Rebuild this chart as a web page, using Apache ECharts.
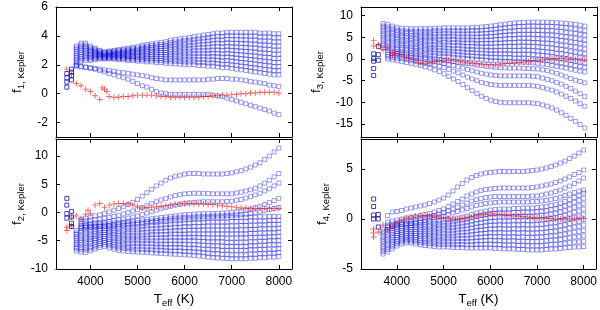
<!DOCTYPE html>
<html><head><meta charset="utf-8">
<script src="https://cdn.jsdelivr.net/npm/echarts@6/dist/echarts.min.js"></script>
<style>html,body{margin:0;padding:0;background:#fff}#c{width:600px;height:310px}</style>
</head><body><div id="c"></div>
<script>
// ---------- data ----------
const teffCool = [3500, 3600];
const teffBand = [3700,3800,3900,4000,4100,4200,4300,4400,4500,4600,4700,4800,4900,5000,5100,5200,5300,5400,5500,5600,5700,5800,5900,6000,6100,6200,6300,6400,6500,6600,6700,6800,6900,7000,7100,7200,7300,7400,7500,7600,7700,7800,7900,8000];
const xTicks = [4000,5000,6000,7000,8000];
const f1Ticks = [-2,0,2,4,6];
const f3Ticks = [-15,-10,-5,0,5,10];
const f2Ticks = [-10,-5,0,5,10];
const f4Ticks = [-5,0,5];

// f1 (top left)
const f1Cool = [[0.45,0.8,1.1,1.4],[0.95,1.25,1.5,1.7]];
const f1Band = [
[2.0,2.13,2.26,2.39,2.52,2.65,2.78,2.91,3.04,3.17,3.3],
[2.2,2.33,2.46,2.59,2.72,2.85,2.98,3.11,3.24,3.37,3.5],
[2.3,2.42,2.54,2.66,2.78,2.9,3.02,3.14,3.26,3.38,3.5],
[2.3,2.4,2.5,2.6,2.7,2.8,2.9,3.0,3.1,3.2,3.3],
[2.35,2.43,2.51,2.59,2.67,2.75,2.83,2.91,2.99,3.07,3.15],
[2.4,2.46,2.52,2.58,2.64,2.7,2.76,2.82,2.88,2.94,3.0],
[2.4,2.45,2.5,2.55,2.6,2.65,2.7,2.75,2.8,2.85,2.9],
[2.4,2.46,2.51,2.57,2.62,2.68,2.73,2.79,2.84,2.9,2.95],
[2.4,2.46,2.52,2.58,2.64,2.7,2.76,2.82,2.88,2.94,3.0],
[2.35,2.42,2.49,2.56,2.63,2.7,2.77,2.84,2.91,2.98,3.05],
[2.35,2.43,2.5,2.58,2.65,2.73,2.8,2.88,2.95,3.03,3.1],
[2.3,2.39,2.47,2.56,2.64,2.73,2.81,2.9,2.98,3.07,3.15],
[2.3,2.39,2.48,2.57,2.66,2.75,2.84,2.93,3.02,3.11,3.2],
[2.25,2.35,2.45,2.55,2.65,2.75,2.85,2.95,3.05,3.15,3.25],
[2.25,2.36,2.47,2.58,2.69,2.8,2.91,3.02,3.13,3.24,3.35],
[2.2,2.32,2.44,2.56,2.68,2.8,2.92,3.04,3.16,3.28,3.4],
[2.2,2.33,2.45,2.58,2.7,2.83,2.95,3.08,3.2,3.33,3.45],
[2.15,2.29,2.42,2.56,2.69,2.83,2.96,3.1,3.23,3.37,3.5],
[2.15,2.29,2.43,2.57,2.71,2.85,2.99,3.13,3.27,3.41,3.55],
[2.1,2.25,2.4,2.55,2.7,2.85,3.0,3.15,3.3,3.45,3.6],
[2.1,2.26,2.42,2.58,2.74,2.9,3.06,3.22,3.38,3.54,3.7],
[2.05,2.22,2.39,2.56,2.73,2.9,3.07,3.24,3.41,3.58,3.75],
[2.05,2.23,2.4,2.58,2.75,2.93,3.1,3.28,3.45,3.63,3.8],
[2.0,2.19,2.37,2.56,2.74,2.93,3.11,3.3,3.48,3.67,3.85],
[2.0,2.19,2.38,2.57,2.76,2.95,3.14,3.33,3.52,3.71,3.9],
[2.0,2.2,2.39,2.59,2.78,2.98,3.17,3.37,3.56,3.76,3.95],
[1.95,2.16,2.36,2.57,2.77,2.98,3.18,3.39,3.59,3.8,4.0],
[1.95,2.16,2.37,2.58,2.79,3.0,3.21,3.42,3.63,3.84,4.05],
[1.9,2.12,2.34,2.56,2.78,3.0,3.22,3.44,3.66,3.88,4.1],
[1.9,2.13,2.35,2.58,2.8,3.03,3.25,3.48,3.7,3.93,4.15],
[1.85,2.09,2.32,2.56,2.79,3.03,3.26,3.5,3.73,3.97,4.2],
[1.8,2.04,2.28,2.52,2.76,3.0,3.24,3.48,3.72,3.96,4.2],
[1.8,2.05,2.29,2.54,2.78,3.03,3.27,3.52,3.76,4.01,4.25],
[1.75,2.0,2.25,2.5,2.75,3.0,3.25,3.5,3.75,4.0,4.25],
[1.7,1.96,2.21,2.47,2.72,2.98,3.23,3.49,3.74,4.0,4.25],
[1.65,1.91,2.17,2.43,2.69,2.95,3.21,3.47,3.73,3.99,4.25],
[1.6,1.87,2.13,2.4,2.66,2.93,3.19,3.46,3.72,3.99,4.25],
[1.55,1.82,2.09,2.36,2.63,2.9,3.17,3.44,3.71,3.98,4.25],
[1.5,1.78,2.05,2.33,2.6,2.88,3.15,3.43,3.7,3.98,4.25],
[1.45,1.73,2.0,2.28,2.55,2.83,3.1,3.38,3.65,3.93,4.2],
[1.4,1.68,1.96,2.24,2.52,2.8,3.08,3.36,3.64,3.92,4.2],
[1.35,1.64,1.92,2.21,2.49,2.78,3.06,3.35,3.63,3.92,4.2],
[1.3,1.59,1.87,2.16,2.44,2.73,3.01,3.3,3.58,3.87,4.15],
[1.3,1.59,1.87,2.16,2.44,2.73,3.01,3.3,3.58,3.87,4.15]
];
const f1LowA = [1.9,1.85,1.8,1.75,1.7,1.6,1.5,1.4,1.3,1.2,1.1,1.0,0.85,0.7,0.55,0.45,0.3,0.15,0.05,0.0,-0.05,-0.05,-0.05,-0.05,-0.05,-0.05,-0.05,-0.05,-0.05,-0.1,-0.15,-0.2,-0.3,-0.4,-0.5,-0.6,-0.7,-0.8,-0.9,-1.0,-1.1,-1.2,-1.35,-1.45];
const f1LowB = [1.95,1.9,1.85,1.8,1.75,1.7,1.65,1.6,1.55,1.5,1.45,1.4,1.35,1.3,1.25,1.2,1.1,1.05,1.0,0.95,0.95,0.95,0.95,0.95,0.95,0.95,0.95,0.95,1.0,1.0,1.05,1.05,1.05,1.0,1.0,0.95,0.9,0.85,0.8,0.75,0.7,0.6,0.55,0.5];
const f1RedT = [3500,3600,3700,3800,3900,4000,4100,4200,4250,4300,4350,4400,4500,4600,4700,4800,4900,5000,5100,5200,5300,5400,5500,5600,5700,5800,5900,6000,6100,6200,6300,6400,6500,6600,6700,6800,6900,7000,7100,7200,7300,7400,7500,7600,7700,7800,7900,8000];
const f1RedV = [1.7,1.3,0.7,0.55,0.3,0.15,-0.15,-0.4,0.4,0.3,0.15,-0.2,-0.25,-0.25,-0.2,-0.2,-0.15,-0.1,-0.1,-0.1,-0.1,-0.15,-0.2,-0.2,-0.25,-0.25,-0.25,-0.25,-0.25,-0.25,-0.25,-0.2,-0.2,-0.15,-0.15,-0.1,-0.1,-0.05,-0.05,0.0,0.0,0.05,0.05,0.1,0.1,0.1,0.1,0.05];

// f3 (top right)
const f3Cool = [[1.2,0.1,-0.5,-2.2,-3.8],[2.9,1.0,-0.3]];
const f3Band = [
[2.5,3.1,3.6,4.2,4.8,5.4,5.9,6.5,7.1,7.6,8.2],
[2.0,2.6,3.2,3.8,4.4,5.0,5.6,6.2,6.8,7.4,8.0],
[1.8,2.4,3.0,3.5,4.1,4.7,5.3,5.9,6.4,7.0,7.6],
[1.6,2.2,2.7,3.3,3.9,4.5,5.0,5.6,6.2,6.7,7.3],
[1.5,2.1,2.6,3.2,3.7,4.3,4.9,5.4,6.0,6.5,7.1],
[1.4,2.0,2.5,3.1,3.6,4.2,4.8,5.3,5.9,6.4,7.0],
[1.3,1.9,2.4,3.0,3.6,4.2,4.7,5.3,5.9,6.4,7.0],
[1.2,1.8,2.4,2.9,3.5,4.1,4.7,5.3,5.8,6.4,7.0],
[1.1,1.7,2.3,2.9,3.5,4.1,4.6,5.2,5.8,6.4,7.0],
[1.0,1.6,2.2,2.8,3.4,4.0,4.6,5.2,5.8,6.4,7.0],
[0.9,1.5,2.1,2.7,3.3,4.0,4.6,5.2,5.8,6.4,7.0],
[0.8,1.4,2.1,2.7,3.3,4.0,4.6,5.2,5.8,6.5,7.1],
[0.7,1.3,2.0,2.6,3.3,3.9,4.5,5.2,5.8,6.5,7.1],
[0.6,1.3,1.9,2.6,3.2,3.9,4.6,5.2,5.9,6.5,7.2],
[0.5,1.2,1.8,2.5,3.2,3.9,4.5,5.2,5.9,6.5,7.2],
[0.4,1.1,1.8,2.4,3.1,3.8,4.5,5.2,5.8,6.5,7.2],
[0.3,1.0,1.7,2.4,3.1,3.8,4.4,5.1,5.8,6.5,7.2],
[0.2,0.9,1.6,2.3,3.0,3.7,4.4,5.1,5.8,6.5,7.2],
[0.1,0.8,1.5,2.2,2.9,3.7,4.4,5.1,5.8,6.5,7.2],
[0.0,0.7,1.5,2.2,2.9,3.7,4.4,5.1,5.8,6.6,7.3],
[-0.1,0.6,1.4,2.1,2.9,3.6,4.3,5.1,5.8,6.6,7.3],
[-0.2,0.6,1.3,2.1,2.8,3.6,4.4,5.1,5.9,6.6,7.4],
[-0.3,0.5,1.3,2.0,2.8,3.6,4.4,5.2,5.9,6.7,7.5],
[-0.4,0.4,1.2,2.0,2.8,3.6,4.4,5.2,6.0,6.8,7.6],
[-0.45,0.4,1.2,2.0,2.8,3.7,4.5,5.3,6.1,6.9,7.75],
[-0.5,0.3,1.2,2.0,2.9,3.7,4.5,5.4,6.2,7.1,7.9],
[-0.55,0.3,1.2,2.0,2.9,3.75,4.6,5.5,6.3,7.2,8.05],
[-0.6,0.3,1.2,2.0,2.9,3.8,4.7,5.6,6.4,7.3,8.2],
[-0.65,0.2,1.1,2.0,2.9,3.8,4.7,5.6,6.5,7.4,8.3],
[-0.7,0.2,1.1,2.0,2.9,3.9,4.8,5.7,6.6,7.5,8.4],
[-0.75,0.2,1.1,2.0,3.0,3.85,4.8,5.7,6.6,7.5,8.45],
[-0.8,0.1,1.1,2.0,2.9,3.85,4.8,5.7,6.6,7.6,8.5],
[-0.9,0.0,1.0,1.9,2.9,3.8,4.7,5.7,6.6,7.6,8.5],
[-1.0,-0.05,0.9,1.85,2.8,3.75,4.7,5.65,6.6,7.55,8.5],
[-1.15,-0.2,0.8,1.75,2.7,3.7,4.6,5.6,6.6,7.5,8.5],
[-1.3,-0.3,0.7,1.6,2.6,3.6,4.6,5.6,6.5,7.5,8.5],
[-1.5,-0.5,0.5,1.5,2.5,3.5,4.5,5.5,6.5,7.5,8.45],
[-1.7,-0.7,0.3,1.3,2.3,3.35,4.4,5.4,6.4,7.4,8.4],
[-1.9,-0.9,0.1,1.2,2.2,3.2,4.2,5.2,6.3,7.3,8.3],
[-2.1,-1.1,0.0,1.0,2.0,3.05,4.1,5.1,6.1,7.2,8.2],
[-2.35,-1.3,-0.3,0.8,1.8,2.9,3.9,5.0,6.0,7.1,8.1],
[-2.6,-1.5,-0.5,0.6,1.6,2.7,3.8,4.8,5.9,6.9,8.0],
[-2.8,-1.7,-0.7,0.4,1.4,2.5,3.6,4.6,5.7,6.7,7.8],
[-3.0,-1.9,-0.9,0.2,1.2,2.3,3.4,4.4,5.5,6.5,7.6]
];
const f3LowA = [null,0.0,-0.2,-0.4,-0.6,-0.8,-1.0,-1.2,-1.5,-1.8,-2.1,-2.5,-2.9,-3.4,-4.0,-4.6,-5.2,-5.9,-6.6,-7.3,-8.0,-8.6,-9.1,-9.5,-9.8,-10.0,-10.1,-10.1,-10.1,-10.1,-10.1,-10.1,-10.2,-10.3,-10.6,-10.9,-11.3,-11.8,-12.4,-13.0,-13.7,-14.4,-15.1,-15.9];
const f3LowB = [null,0.5,0.35,0.2,0.05,-0.1,-0.3,-0.5,-0.7,-0.9,-1.1,-1.4,-1.7,-2.0,-2.4,-2.8,-3.2,-3.7,-4.2,-4.6,-5.0,-5.4,-5.7,-5.9,-6.0,-6.1,-6.1,-6.1,-6.1,-6.1,-6.1,-6.1,-6.2,-6.3,-6.6,-6.9,-7.2,-7.6,-8.1,-8.6,-9.1,-9.7,-10.3,-10.9];
const f3LowC = [null,1.0,0.9,0.8,0.65,0.5,0.35,0.2,0.05,-0.1,-0.3,-0.5,-0.75,-1.0,-1.25,-1.5,-1.8,-2.1,-2.4,-2.7,-3.0,-3.3,-3.5,-3.7,-3.8,-3.9,-3.9,-3.9,-3.9,-3.9,-3.9,-3.9,-4.0,-4.1,-4.4,-4.7,-5.0,-5.4,-5.8,-6.3,-6.8,-7.4,-8.0,-8.7];
const f3LowD = [null,1.5,1.4,1.25,1.1,0.95,0.8,0.65,0.5,0.35,0.2,0.05,-0.1,-0.3,-0.45,-0.6,-0.75,-0.9,-1.05,-1.2,-1.4,-1.55,-1.7,-1.8,-1.9,-2.0,-2.05,-2.1,-2.1,-2.1,-2.15,-2.2,-2.25,-2.3,-2.5,-2.7,-3.0,-3.3,-3.7,-4.1,-4.5,-4.9,-5.2,-5.5];
const f3RedT = [3500,3500,3600,3700,3800,3900,3900,4000,4100,4200,4300,4400,4500,4600,4700,4800,4900,5000,5100,5200,5300,5400,5500,5600,5700,5800,5900,6000,6100,6200,6300,6400,6500,6600,6700,6800,6900,7000,7100,7200,7300,7400,7500,7600,7700,7800,7900,8000];
const f3RedV = [4.3,3.0,3.4,2.2,2.6,1.5,0.8,1.2,0.9,0.3,0.0,-0.4,-0.9,-1.0,-1.0,-0.6,-0.4,-0.3,-0.3,-0.4,-0.5,-0.7,-0.9,-1.0,-1.1,-1.2,-1.3,-1.3,-1.3,-1.2,-1.1,-1.0,-0.9,-0.8,-0.7,-0.6,-0.4,-0.3,-0.2,-0.1,0.0,0.1,0.1,0.0,-0.1,-0.1,-0.2,-0.2];

// f2 (bottom left)
const f2Cool = [[2.5,1.3,-0.2,-1.0],[0.2,-0.8,-1.9,-2.5]];
const f2Band = [
[-6.8,-6.4,-6.1,-5.7,-5.4,-5.0,-4.6,-4.3,-3.9,-3.6,-3.2],
[-7.0,-6.6,-6.2,-5.7,-5.3,-4.9,-4.5,-4.1,-3.6,-3.2,-2.8],
[-7.1,-6.65,-6.2,-5.75,-5.3,-4.85,-4.4,-3.95,-3.5,-3.05,-2.6],
[-6.8,-6.4,-6.0,-5.5,-5.1,-4.7,-4.3,-3.9,-3.4,-3.0,-2.6],
[-6.5,-6.1,-5.7,-5.3,-4.9,-4.6,-4.2,-3.8,-3.4,-3.0,-2.6],
[-6.2,-5.8,-5.5,-5.1,-4.7,-4.35,-4.0,-3.6,-3.2,-2.9,-2.5],
[-6.0,-5.65,-5.3,-4.95,-4.6,-4.25,-3.9,-3.55,-3.2,-2.85,-2.5],
[-6.3,-5.9,-5.5,-5.2,-4.8,-4.4,-4.0,-3.6,-3.3,-2.9,-2.5],
[-6.5,-6.1,-5.7,-5.3,-4.9,-4.45,-4.0,-3.6,-3.2,-2.8,-2.4],
[-6.7,-6.3,-5.8,-5.4,-5.0,-4.55,-4.1,-3.7,-3.3,-2.8,-2.4],
[-6.8,-6.35,-5.9,-5.45,-5.0,-4.55,-4.1,-3.65,-3.2,-2.75,-2.3],
[-6.9,-6.4,-6.0,-5.5,-5.0,-4.55,-4.1,-3.6,-3.1,-2.7,-2.2],
[-6.95,-6.5,-6.0,-5.5,-5.0,-4.55,-4.1,-3.6,-3.1,-2.6,-2.15],
[-7.0,-6.5,-6.0,-5.5,-5.0,-4.55,-4.1,-3.6,-3.1,-2.6,-2.1],
[-7.05,-6.5,-6.0,-5.5,-5.0,-4.5,-4.0,-3.5,-3.0,-2.5,-2.0],
[-7.1,-6.6,-6.1,-5.5,-5.0,-4.5,-4.0,-3.5,-2.9,-2.4,-1.9],
[-7.15,-6.6,-6.1,-5.5,-5.0,-4.5,-3.9,-3.4,-2.9,-2.3,-1.8],
[-7.2,-6.65,-6.1,-5.6,-5.0,-4.5,-3.9,-3.4,-2.8,-2.3,-1.75],
[-7.25,-6.7,-6.1,-5.6,-5.0,-4.45,-3.9,-3.3,-2.8,-2.2,-1.65],
[-7.3,-6.7,-6.2,-5.6,-5.0,-4.45,-3.9,-3.3,-2.7,-2.2,-1.6],
[-7.35,-6.8,-6.2,-5.6,-5.0,-4.4,-3.8,-3.3,-2.7,-2.1,-1.5],
[-7.4,-6.8,-6.2,-5.6,-5.0,-4.4,-3.8,-3.2,-2.6,-2.0,-1.45],
[-7.45,-6.8,-6.2,-5.6,-5.0,-4.4,-3.8,-3.2,-2.6,-2.0,-1.4],
[-7.5,-6.9,-6.3,-5.6,-5.0,-4.4,-3.8,-3.2,-2.5,-1.9,-1.3],
[-7.55,-6.9,-6.3,-5.7,-5.0,-4.4,-3.8,-3.1,-2.5,-1.9,-1.25],
[-7.6,-7.0,-6.3,-5.7,-5.0,-4.4,-3.8,-3.1,-2.5,-1.8,-1.2],
[-7.7,-7.0,-6.4,-5.7,-5.1,-4.4,-3.8,-3.1,-2.5,-1.8,-1.15],
[-7.8,-7.1,-6.5,-5.8,-5.1,-4.45,-3.8,-3.1,-2.4,-1.8,-1.1],
[-7.9,-7.2,-6.5,-5.8,-5.2,-4.5,-3.8,-3.1,-2.4,-1.7,-1.05],
[-8.0,-7.3,-6.6,-5.9,-5.2,-4.5,-3.8,-3.1,-2.4,-1.7,-1.0],
[-8.05,-7.3,-6.6,-5.9,-5.2,-4.5,-3.8,-3.1,-2.4,-1.7,-1.0],
[-8.1,-7.4,-6.7,-6.0,-5.2,-4.5,-3.8,-3.1,-2.4,-1.7,-0.95],
[-8.15,-7.4,-6.7,-6.0,-5.3,-4.55,-3.8,-3.1,-2.4,-1.7,-0.95],
[-8.2,-7.5,-6.7,-6.0,-5.3,-4.55,-3.8,-3.1,-2.4,-1.6,-0.9],
[-8.2,-7.5,-6.7,-6.0,-5.3,-4.55,-3.8,-3.1,-2.4,-1.6,-0.9],
[-8.2,-7.5,-6.7,-6.0,-5.3,-4.5,-3.8,-3.1,-2.3,-1.6,-0.85],
[-8.2,-7.5,-6.7,-6.0,-5.3,-4.5,-3.8,-3.1,-2.3,-1.6,-0.85],
[-8.1,-7.4,-6.6,-5.9,-5.2,-4.45,-3.7,-3.0,-2.3,-1.5,-0.8],
[-8.1,-7.4,-6.6,-5.9,-5.2,-4.45,-3.7,-3.0,-2.3,-1.5,-0.8],
[-8.0,-7.3,-6.55,-5.8,-5.1,-4.4,-3.65,-2.9,-2.2,-1.5,-0.75],
[-8.0,-7.3,-6.55,-5.8,-5.1,-4.4,-3.65,-2.9,-2.2,-1.5,-0.75],
[-7.9,-7.2,-6.5,-5.7,-5.0,-4.3,-3.6,-2.9,-2.1,-1.4,-0.7],
[-7.9,-7.2,-6.5,-5.7,-5.0,-4.3,-3.6,-2.9,-2.1,-1.4,-0.7],
[-7.8,-7.1,-6.4,-5.7,-5.0,-4.25,-3.5,-2.8,-2.1,-1.4,-0.7]
];
const f2UpA = [null,-1.2,-1.0,-0.8,-0.6,-0.4,-0.2,0.1,0.4,0.7,1.0,1.4,1.8,2.3,2.9,3.5,4.1,4.7,5.2,5.7,6.1,6.4,6.6,6.8,6.9,6.9,6.9,6.8,6.8,6.8,6.8,6.8,6.9,7.0,7.2,7.4,7.7,8.0,8.4,8.8,9.4,10.0,10.7,11.4];
const f2UpB = [null,-1.6,-1.5,-1.4,-1.3,-1.2,-1.05,-0.9,-0.7,-0.5,-0.25,0.0,0.25,0.5,0.85,1.2,1.55,1.9,2.2,2.5,2.75,3.0,3.15,3.3,3.35,3.4,3.4,3.4,3.35,3.3,3.3,3.3,3.3,3.3,3.45,3.6,3.8,4.0,4.3,4.7,5.2,5.7,6.3,6.9];
const f2UpC = [null,-2.0,-2.0,-1.9,-1.85,-1.8,-1.7,-1.6,-1.45,-1.3,-1.15,-1.0,-0.8,-0.6,-0.35,-0.1,0.15,0.4,0.65,0.9,1.1,1.3,1.45,1.6,1.7,1.8,1.85,1.9,1.9,1.9,1.9,1.9,1.95,2.0,2.15,2.3,2.55,2.8,3.1,3.4,3.8,4.2,4.7,5.2];
const f2UpD = [null,-2.4,-2.3,-2.2,-2.2,-2.1,-2.0,-2.0,-1.9,-1.8,-1.7,-1.6,-1.5,-1.4,-1.3,-1.2,-1.1,-1.0,-0.9,-0.8,-0.7,-0.6,-0.5,-0.4,-0.35,-0.3,-0.25,-0.2,-0.2,-0.2,-0.15,-0.1,-0.05,0.0,0.1,0.25,0.4,0.6,0.85,1.1,1.4,1.75,2.1,2.5];
const f2UpE = [null,-2.6,-2.55,-2.5,-2.45,-2.4,-2.35,-2.3,-2.2,-2.1,-2.0,-1.9,-1.85,-1.8,-1.7,-1.6,-1.5,-1.4,-1.3,-1.2,-1.1,-1.0,-0.95,-0.9,-0.85,-0.8,-0.75,-0.7,-0.7,-0.65,-0.6,-0.6,-0.55,-0.5,-0.45,-0.4,-0.3,-0.2,-0.05,0.1,0.3,0.5,0.7,0.9];
const f2RedT = [3500,3500,3600,3600,3700,3800,3900,3950,4000,4100,4200,4300,4400,4500,4600,4700,4800,4900,5000,5100,5200,5300,5400,5500,5600,5700,5800,5900,6000,6100,6200,6300,6400,6500,6600,6700,6800,6900,7000,7100,7200,7300,7400,7500,7600,7700,7800,7900,8000];
const f2RedV = [-3.2,-2.6,-2.4,-0.8,-0.6,-1.1,-0.3,0.4,-0.2,1.3,1.6,0.9,1.3,1.5,1.6,1.6,1.5,1.3,1.1,0.8,0.8,0.9,1.0,1.1,1.2,1.3,1.4,1.5,1.6,1.6,1.6,1.5,1.5,1.4,1.4,1.3,1.2,1.1,1.0,0.9,0.8,0.8,0.7,0.7,0.7,0.7,0.7,0.7,0.7];

// f4 (bottom right)
const f4Cool = [[2.0,1.25,0.4,0.0],[0.45,0.0,-0.8]];
const f4Band = [
[-3.5,-3.25,-3.0,-2.75,-2.5,-2.25,-2.0,-1.75,-1.5,-1.25,-1.0],
[-3.3,-3.05,-2.8,-2.55,-2.3,-2.05,-1.8,-1.55,-1.3,-1.05,-0.8],
[-3.0,-2.77,-2.54,-2.31,-2.08,-1.85,-1.62,-1.39,-1.16,-0.93,-0.7],
[-2.7,-2.49,-2.28,-2.07,-1.86,-1.65,-1.44,-1.23,-1.02,-0.81,-0.6],
[-2.5,-2.3,-2.11,-1.91,-1.72,-1.53,-1.33,-1.14,-0.94,-0.75,-0.55],
[-2.4,-2.21,-2.02,-1.83,-1.64,-1.45,-1.26,-1.07,-0.88,-0.69,-0.5],
[-2.4,-2.2,-2.01,-1.81,-1.62,-1.43,-1.23,-1.04,-0.84,-0.65,-0.45],
[-2.5,-2.29,-2.08,-1.87,-1.66,-1.45,-1.24,-1.03,-0.82,-0.61,-0.4],
[-2.6,-2.38,-2.15,-1.93,-1.7,-1.48,-1.25,-1.03,-0.8,-0.58,-0.35],
[-2.65,-2.42,-2.18,-1.95,-1.71,-1.48,-1.24,-1.01,-0.77,-0.54,-0.3],
[-2.7,-2.46,-2.21,-1.97,-1.72,-1.48,-1.23,-0.99,-0.74,-0.5,-0.25],
[-2.75,-2.5,-2.24,-1.99,-1.73,-1.48,-1.22,-0.97,-0.71,-0.46,-0.2],
[-2.8,-2.54,-2.27,-2.01,-1.74,-1.48,-1.21,-0.95,-0.68,-0.42,-0.15],
[-2.8,-2.53,-2.26,-1.99,-1.72,-1.45,-1.18,-0.91,-0.64,-0.37,-0.1],
[-2.8,-2.53,-2.25,-1.98,-1.7,-1.43,-1.15,-0.88,-0.6,-0.33,-0.05],
[-2.85,-2.57,-2.28,-2.0,-1.71,-1.43,-1.14,-0.86,-0.57,-0.29,0.0],
[-2.85,-2.56,-2.26,-1.97,-1.67,-1.38,-1.08,-0.79,-0.49,-0.2,0.1],
[-2.85,-2.55,-2.24,-1.94,-1.63,-1.33,-1.02,-0.72,-0.41,-0.11,0.2],
[-2.9,-2.58,-2.26,-1.94,-1.62,-1.3,-0.98,-0.66,-0.34,-0.02,0.3],
[-2.9,-2.57,-2.23,-1.9,-1.56,-1.23,-0.89,-0.56,-0.22,0.12,0.45],
[-2.9,-2.55,-2.2,-1.85,-1.5,-1.15,-0.8,-0.45,-0.1,0.25,0.6],
[-2.9,-2.54,-2.18,-1.82,-1.46,-1.1,-0.74,-0.38,-0.02,0.34,0.7],
[-2.9,-2.53,-2.16,-1.79,-1.42,-1.05,-0.68,-0.31,0.06,0.43,0.8],
[-2.9,-2.52,-2.14,-1.76,-1.38,-1.0,-0.62,-0.24,0.14,0.52,0.9],
[-2.95,-2.56,-2.17,-1.78,-1.39,-1.0,-0.61,-0.22,0.17,0.56,0.95],
[-2.95,-2.56,-2.16,-1.77,-1.37,-0.98,-0.58,-0.19,0.21,0.6,1.0],
[-3.0,-2.6,-2.2,-1.8,-1.4,-1.0,-0.6,-0.2,0.2,0.6,1.0],
[-3.0,-2.6,-2.2,-1.8,-1.4,-1.0,-0.6,-0.2,0.2,0.6,1.0],
[-3.0,-2.6,-2.19,-1.79,-1.38,-0.98,-0.57,-0.17,0.24,0.65,1.05],
[-3.05,-2.64,-2.23,-1.82,-1.41,-1.0,-0.59,-0.18,0.23,0.64,1.05],
[-3.05,-2.64,-2.22,-1.81,-1.39,-0.98,-0.56,-0.15,0.27,0.68,1.1],
[-3.1,-2.68,-2.26,-1.84,-1.42,-1.0,-0.58,-0.16,0.26,0.68,1.1],
[-3.1,-2.68,-2.26,-1.84,-1.42,-1.0,-0.58,-0.16,0.26,0.68,1.1],
[-3.1,-2.68,-2.25,-1.83,-1.4,-0.98,-0.55,-0.13,0.3,0.72,1.15],
[-3.1,-2.67,-2.24,-1.81,-1.38,-0.95,-0.52,-0.09,0.34,0.77,1.2],
[-3.05,-2.62,-2.19,-1.76,-1.33,-0.9,-0.47,-0.04,0.39,0.82,1.25],
[-3.0,-2.57,-2.13,-1.7,-1.26,-0.83,-0.39,0.05,0.48,0.92,1.35],
[-3.0,-2.56,-2.11,-1.67,-1.22,-0.78,-0.33,0.12,0.56,1.01,1.45],
[-2.95,-2.5,-2.04,-1.59,-1.13,-0.68,-0.22,0.24,0.69,1.15,1.6],
[-2.9,-2.44,-1.97,-1.51,-1.04,-0.58,-0.11,0.36,0.82,1.29,1.75],
[-2.85,-2.37,-1.89,-1.41,-0.93,-0.45,0.03,0.51,0.99,1.47,1.95],
[-2.8,-2.31,-1.81,-1.32,-0.82,-0.33,0.17,0.67,1.16,1.66,2.15],
[-2.8,-2.29,-1.77,-1.26,-0.74,-0.23,0.29,0.81,1.32,1.84,2.35],
[-2.75,-2.22,-1.68,-1.15,-0.61,-0.08,0.46,1.0,1.53,2.07,2.6]
];
const f4UpA = [null,0.35,0.7,0.75,0.85,1.0,1.1,1.2,1.3,1.4,1.55,1.7,1.9,2.1,2.4,2.8,3.2,3.55,3.9,4.15,4.35,4.5,4.6,4.65,4.7,4.75,4.75,4.75,4.75,4.75,4.75,4.8,4.85,4.9,5.0,5.1,5.25,5.4,5.6,5.8,6.05,6.3,6.6,6.9];
const f4UpB = [null,-0.3,-0.2,-0.1,0.0,0.1,0.15,0.25,0.35,0.45,0.55,0.7,0.85,1.0,1.25,1.5,1.75,2.0,2.3,2.5,2.7,2.85,2.95,3.0,3.05,3.1,3.1,3.1,3.1,3.1,3.1,3.1,3.15,3.2,3.3,3.4,3.5,3.65,3.8,4.0,4.2,4.45,4.65,4.9];
const f4UpC = [null,-0.6,-0.5,-0.4,-0.3,-0.2,-0.15,-0.05,0.05,0.15,0.25,0.35,0.5,0.65,0.8,1.0,1.2,1.4,1.6,1.8,1.95,2.05,2.15,2.2,2.25,2.25,2.25,2.25,2.25,2.25,2.25,2.25,2.3,2.3,2.4,2.5,2.6,2.75,2.9,3.1,3.3,3.55,3.8,4.1];
const f4UpD = [null,-0.8,-0.7,-0.6,-0.5,-0.45,-0.4,-0.3,-0.2,-0.1,0.0,0.1,0.2,0.3,0.45,0.6,0.75,0.9,1.05,1.2,1.35,1.45,1.55,1.6,1.65,1.7,1.7,1.7,1.7,1.7,1.7,1.7,1.75,1.75,1.8,1.85,1.95,2.05,2.2,2.35,2.5,2.65,2.8,2.9];
const f4RedT = [3500,3500,3500,3600,3700,3800,3900,4000,4100,4200,4300,4400,4500,4600,4700,4800,4900,5000,5100,5200,5300,5400,5500,5600,5700,5800,5900,6000,6100,6200,6300,6400,6500,6600,6700,6800,6900,7000,7100,7200,7300,7400,7500,7600,7700,7800,7900,8000];
const f4RedV = [-1.0,-1.4,-1.8,-1.3,-0.6,-1.1,-0.8,-0.4,-0.1,0.1,0.2,0.3,0.35,0.35,0.3,0.3,0.2,0.1,0.05,0.0,0.0,0.05,0.1,0.2,0.3,0.4,0.45,0.5,0.5,0.45,0.4,0.35,0.3,0.3,0.25,0.2,0.15,0.1,0.1,0.05,0.05,0.0,0.0,0.0,0.0,0.0,0.05,0.05];

// ---------- chart ----------
const FONT = '"Liberation Sans", Arial, Helvetica, sans-serif';
const panels = [
  {sub:'1, Kepler', band:f1Band, extra:[f1LowA,f1LowB], cool:f1Cool, redT:f1RedT, redV:f1RedV,
   left:56, top:7, xMin:3270, xMax:8280, yMin:-3, yMax:6, yTicks:f1Ticks, showX:false, nameGap:30},
  {sub:'3, Kepler', band:f3Band, extra:[f3LowA,f3LowB,f3LowC,f3LowD], cool:f3Cool, redT:f3RedT, redV:f3RedV,
   left:361, top:7, xMin:3230, xMax:8260, yMin:-18, yMax:12, yTicks:f3Ticks, showX:false, nameGap:36},
  {sub:'2, Kepler', band:f2Band, extra:[f2UpA,f2UpB,f2UpC,f2UpD,f2UpE], cool:f2Cool, redT:f2RedT, redV:f2RedV,
   left:56, top:139, xMin:3270, xMax:8280, yMin:-10, yMax:13, yTicks:f2Ticks, showX:true, nameGap:30},
  {sub:'4, Kepler', band:f4Band, extra:[f4UpA,f4UpB,f4UpC,f4UpD], cool:f4Cool, redT:f4RedT, redV:f4RedV,
   left:361, top:139, xMin:3230, xMax:8260, yMin:-5, yMax:8, yTicks:f4Ticks, showX:true, nameGap:30}
];

const grid = [], xAxis = [], yAxis = [], series = [];
const lineStyle = {color:'#000', width:1};
const tick = vals => ({show:true, inside:true, length:4, customValues:vals, lineStyle:lineStyle});
const plain = v => String(v);
const plusPath = 'path://M0,4.2H10V5.8H0Z M4.2,0H5.8V10H4.2Z';

panels.forEach((p, i) => {
  grid.push({left:p.left, top:p.top, width:236, height:130});
  xAxis.push({gridIndex:i, type:'value', min:p.xMin, max:p.xMax, position:'bottom',
    axisLine:{show:true, onZero:false, lineStyle:lineStyle}, axisTick:tick(xTicks),
    axisLabel:{show:p.showX, customValues:xTicks, formatter:plain, color:'#000', fontSize:12, fontFamily:FONT, margin:7},
    splitLine:{show:false},
    name: p.showX ? '{t|T}{s|eff}{t| (K)}' : '', nameLocation:'middle', nameGap:23,
    nameTextStyle:{rich:{
      t:{fontSize:13.5, fontFamily:FONT, color:'#000', verticalAlign:'top', lineHeight:16},
      s:{fontSize:9.5, fontFamily:FONT, color:'#000', verticalAlign:'bottom', lineHeight:16}}}});
  xAxis.push({gridIndex:i, type:'value', min:p.xMin, max:p.xMax, position:'top',
    axisLine:{show:true, onZero:false, lineStyle:lineStyle}, axisTick:tick(xTicks),
    axisLabel:{show:false}, splitLine:{show:false}});
  yAxis.push({gridIndex:i, type:'value', min:p.yMin, max:p.yMax, position:'left',
    axisLine:{show:true, onZero:false, lineStyle:lineStyle}, axisTick:tick(p.yTicks),
    axisLabel:{customValues:p.yTicks, formatter:plain, color:'#000', fontSize:12, fontFamily:FONT, margin:8},
    splitLine:{show:false},
    name:'{f|f}{s|' + p.sub + '}', nameLocation:'middle', nameGap:p.nameGap,
    nameTextStyle:{rich:{
      f:{fontSize:13.5, fontFamily:FONT, color:'#000', verticalAlign:'top', lineHeight:16},
      s:{fontSize:9.5, fontFamily:FONT, color:'#000', verticalAlign:'bottom', lineHeight:16}}}});
  yAxis.push({gridIndex:i, type:'value', min:p.yMin, max:p.yMax, position:'right',
    axisLine:{show:true, onZero:false, lineStyle:lineStyle}, axisTick:tick(p.yTicks),
    axisLabel:{show:false}, splitLine:{show:false}});

  const blue = [];
  p.band.forEach((col, k) => col.forEach(v => blue.push([teffBand[k], v])));
  p.extra.forEach(curve => curve.forEach((v, k) => { if (v !== null) blue.push([teffBand[k], v]); }));
  const cool = [];
  p.cool.forEach((col, k) => col.forEach(v => cool.push([teffCool[k], v])));
  const red = p.redT.map((t, k) => [t, p.redV[k]]);

  series.push({type:'scatter', xAxisIndex:2*i, yAxisIndex:2*i, data:blue, symbol:'rect', symbolSize:4,
    silent:true, itemStyle:{color:'rgba(255,255,255,0)', borderColor:'rgba(10,10,215,0.5)', borderWidth:1}});
  series.push({type:'scatter', xAxisIndex:2*i, yAxisIndex:2*i, data:cool, symbol:'rect', symbolSize:4,
    silent:true, itemStyle:{color:'rgba(255,255,255,0)', borderColor:'rgba(0,0,150,0.9)', borderWidth:1}});
  series.push({type:'scatter', xAxisIndex:2*i, yAxisIndex:2*i, data:red, symbol:plusPath, symbolSize:6,
    silent:true, itemStyle:{color:'rgba(235,0,0,0.75)'}});
});

const chart = echarts.init(document.getElementById('c'), null, {renderer:'canvas'});
chart.setOption({animation:false, backgroundColor:'#fff', grid:grid, xAxis:xAxis, yAxis:yAxis, series:series});
</script>
</body></html>
